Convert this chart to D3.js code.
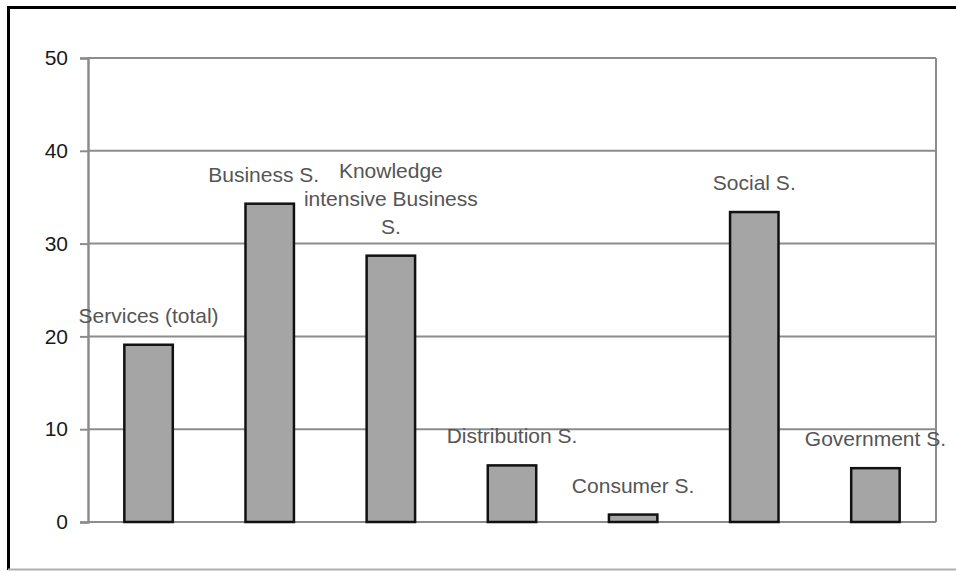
<!DOCTYPE html>
<html>
<head>
<meta charset="utf-8">
<script src="https://cdn.jsdelivr.net/npm/d3@7"></script>
<style>
  html, body { margin: 0; padding: 0; background: #fff; }
  svg { display: block; }
  text { font-family: "Liberation Sans", Arial, sans-serif; }
</style>
</head>
<body>
<svg id="chart" width="956" height="571"></svg>
<script>
// Share by service sector (values per category)
const categories = [
  "Services (total)",
  "Business S.",
  "Knowledge intensive Business S.",
  "Distribution S.",
  "Consumer S.",
  "Social S.",
  "Government S."
];
const values = [19.1, 34.3, 28.7, 6.1, 0.8, 33.4, 5.8];
const yTicks = [0, 10, 20, 30, 40, 50];

const W = 956, H = 571;
const margin = { left: 88, right: 20, top: 58, bottom: 49 };
const plotRight = W - margin.right;
const plotBottom = H - margin.bottom;

const svg = d3.select("#chart");

// Outer frame: dark top/left edges, light bottom edge
svg.append("line").attr("x1", 8).attr("x2", W).attr("y1", 7.5).attr("y2", 7.5)
  .attr("stroke", "#000").attr("stroke-width", 3);
svg.append("line").attr("x1", 8.5).attr("x2", 8.5).attr("y1", 6).attr("y2", 570)
  .attr("stroke", "#000").attr("stroke-width", 3);
svg.append("line").attr("x1", 8).attr("x2", W).attr("y1", 569.5).attr("y2", 569.5)
  .attr("stroke", "#b0b0b0").attr("stroke-width", 2);

const x = d3.scaleBand()
  .domain(categories)
  .range([margin.left, plotRight])
  .paddingInner(0.6)
  .paddingOuter(0.3);

const y = d3.scaleLinear()
  .domain([0, 50])
  .range([plotBottom, margin.top]);

// Gridlines
svg.append("g")
  .selectAll("line")
  .data(yTicks.filter(t => t > 0))
  .join("line")
  .attr("x1", margin.left).attr("x2", plotRight)
  .attr("y1", d => y(d)).attr("y2", d => y(d))
  .attr("stroke", "#8c8c8c").attr("stroke-width", 2);

// Right border of the plot area
svg.append("line")
  .attr("x1", plotRight).attr("x2", plotRight)
  .attr("y1", y(50)).attr("y2", y(0))
  .attr("stroke", "#8c8c8c").attr("stroke-width", 2);

// Y axis
const yAxis = d3.axisLeft(y)
  .tickValues(yTicks)
  .tickSize(8)
  .tickPadding(12)
  .tickFormat(d3.format("d"));

const gy = svg.append("g")
  .attr("transform", `translate(${margin.left},0)`)
  .call(yAxis);
gy.select(".domain").attr("stroke", "#8c8c8c").attr("stroke-width", 2.5);
gy.selectAll(".tick line").attr("stroke", "#8c8c8c").attr("stroke-width", 2);
gy.selectAll(".tick text")
  .attr("font-size", 21)
  .attr("fill", "#1a1a1a")
  .attr("font-family", "'Liberation Sans', Arial, sans-serif");

// X baseline
svg.append("line")
  .attr("x1", margin.left).attr("x2", plotRight)
  .attr("y1", y(0)).attr("y2", y(0))
  .attr("stroke", "#8c8c8c").attr("stroke-width", 2);

// Bars
svg.append("g")
  .selectAll("rect")
  .data(categories.map((c, i) => ({ c, v: values[i] })))
  .join("rect")
  .attr("x", d => x(d.c))
  .attr("width", x.bandwidth())
  .attr("y", d => y(d.v))
  .attr("height", d => y(0) - y(d.v))
  .attr("fill", "#a5a5a5")
  .attr("stroke", "#111")
  .attr("stroke-width", 2.5);

// Category labels above each bar, wrapped to a maximum width
const labelFont = 21, lineHeight = 28, maxLabelWidth = 185;
const measure = svg.append("text").attr("font-size", labelFont).attr("visibility", "hidden");
function wrap(str) {
  const words = str.split(" ");
  const lines = [];
  let cur = "";
  words.forEach(w => {
    const trial = cur ? cur + " " + w : w;
    measure.text(trial);
    if (cur && measure.node().getComputedTextLength() > maxLabelWidth) {
      lines.push(cur);
      cur = w;
    } else {
      cur = trial;
    }
  });
  if (cur) lines.push(cur);
  return lines;
}

// Small horizontal nudge so neighbouring labels don't collide
const labelShift = { "Business S.": -6 };

const labels = svg.append("g")
  .selectAll("text")
  .data(categories.map((c, i) => ({ c, v: values[i], lines: wrap(c) })))
  .join("text")
  .attr("text-anchor", "middle")
  .attr("font-size", labelFont)
  .attr("fill", "#555");

labels.each(function(d) {
  const cx = x(d.c) + x.bandwidth() / 2 + (labelShift[d.c] || 0);
  const baseY = y(d.v) - 22 - (d.lines.length - 1) * lineHeight;
  d3.select(this).selectAll("tspan")
    .data(d.lines)
    .join("tspan")
    .attr("x", cx)
    .attr("y", (l, i) => baseY + i * lineHeight)
    .text(l => l);
});
measure.remove();
</script>
</body>
</html>
